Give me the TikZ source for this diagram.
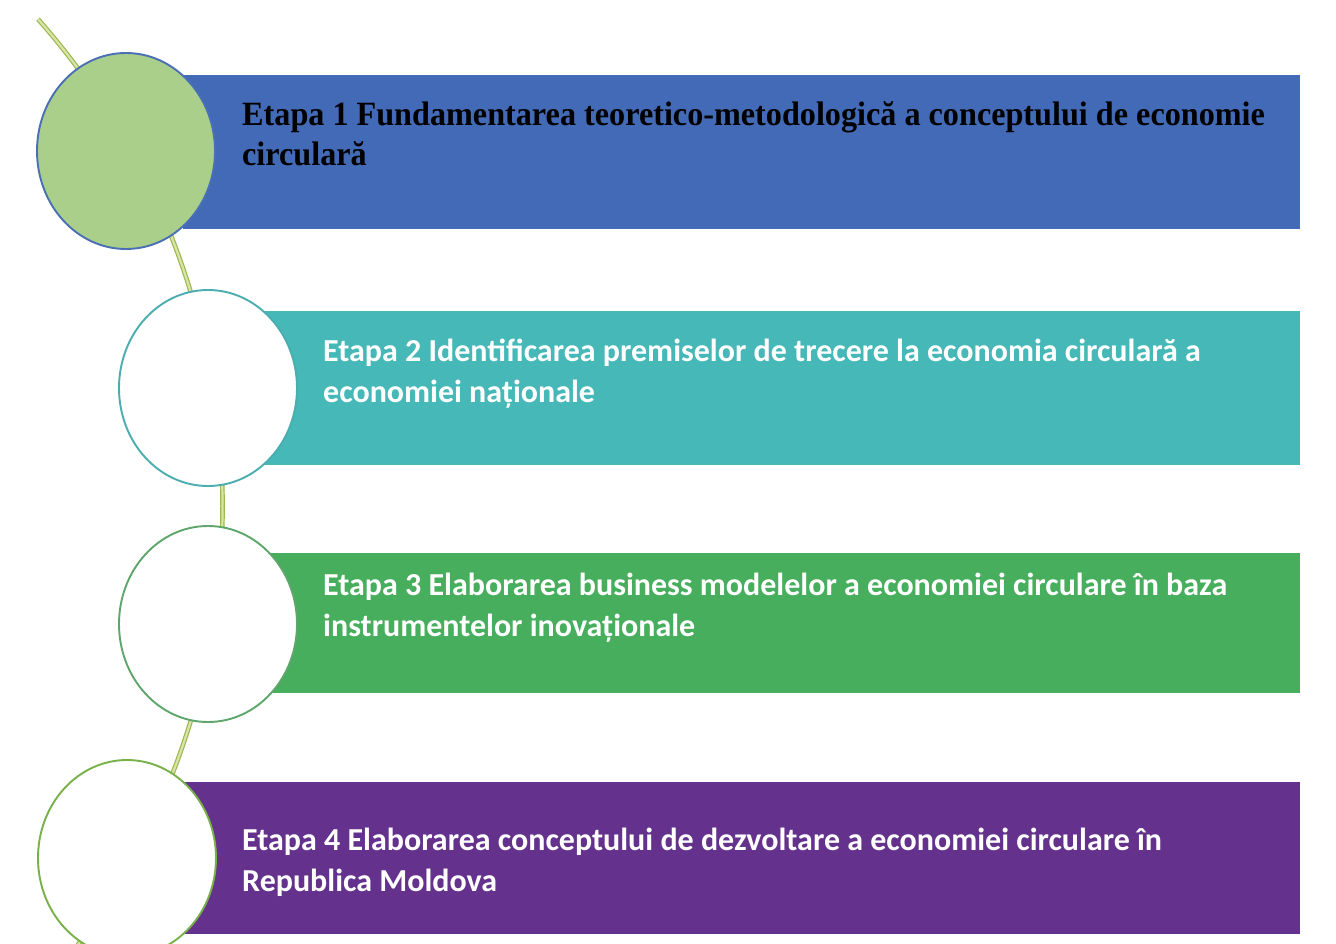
\documentclass[tikz,border=0pt]{standalone}
\usepackage{fontspec}
\usetikzlibrary{shapes.geometric,calc}
\newfontfamily\timesb[FakeStretch=0.947]{Liberation Serif}
\newfontfamily\calb{Carlito}
\definecolor{barA}{HTML}{436AB6}
\definecolor{barB}{HTML}{45B8B7}
\definecolor{barC}{HTML}{46AE5C}
\definecolor{barD}{HTML}{64328C}
\definecolor{ringA}{HTML}{4A6FB5}
\definecolor{ringB}{HTML}{4BADB0}
\definecolor{ringC}{HTML}{5EA66C}
\definecolor{ringD}{HTML}{78B04A}
\definecolor{dotfill}{HTML}{A9CF8A}
\definecolor{vine}{HTML}{9CB84E}
\definecolor{vinein}{HTML}{D8E4A8}
\tikzset{
  ring/.style={ellipse, minimum width=178pt, minimum height=196pt, inner sep=0pt, line width=1.9pt, fill=white},
  serifline/.style={anchor=north west, inner sep=0pt, align=left, text=black, font={\timesb\bfseries\fontsize{34}{40}\selectfont}},
  sansline/.style={anchor=north west, inner sep=0pt, align=left, text=white, font={\calb\bfseries\fontsize{32}{41}\selectfont}},
  vinestyle/.style={draw=vine, line width=1.2pt, double=vinein, double distance=2.2pt}
}
\begin{document}
\begin{tikzpicture}[x=1pt,y=-1pt]
\useasboundingbox (0,0) rectangle (1336,944);
\clip (0,0) rectangle (1336,944);
\fill[white] (0,0) rectangle (1336,944);
% vine arc
\coordinate (vc) at (-513.2,506.5);
\coordinate (vtop) at ($(vc)+(-41.48:735.8)$);
\draw[vinestyle] (vtop) arc[start angle=-41.48, end angle=42, radius=735.8];
% bars
\fill[barA] (183,75) rectangle (1300,229) coordinate (b1);
\fill[barB] (263,311) rectangle (1300,465) coordinate (b2);
\fill[barC] (270,553) rectangle (1300,693) coordinate (b3);
\fill[barD] (183,782) rectangle (1300,934) coordinate (b4);
% circles
\node[ring, draw=ringA, fill=dotfill] (c1) at (126,151) {};
\node[ring, draw=ringB] (c2) at (208,388) {};
\node[ring, draw=ringC] (c3) at (208,624) {};
\node[ring, draw=ringD] (c4) at (127,858) {};
% texts
\node[serifline] (t1) at (242,101) {Etapa 1 Fundamentarea teoretico-metodologică a conceptului de economie\\circulară};
\node[sansline] (t2) at (323,339) {Etapa 2 Identificarea premiselor de trecere la economia circulară a\\economiei naționale};
\node[sansline] (t3) at (323,573) {Etapa 3 Elaborarea business modelelor a economiei circulare în baza\\instrumentelor inovaționale};
\node[sansline] (t4) at (242,828) {Etapa 4 Elaborarea conceptului de dezvoltare a economiei circulare în\\Republica Moldova};
\end{tikzpicture}
\end{document}
